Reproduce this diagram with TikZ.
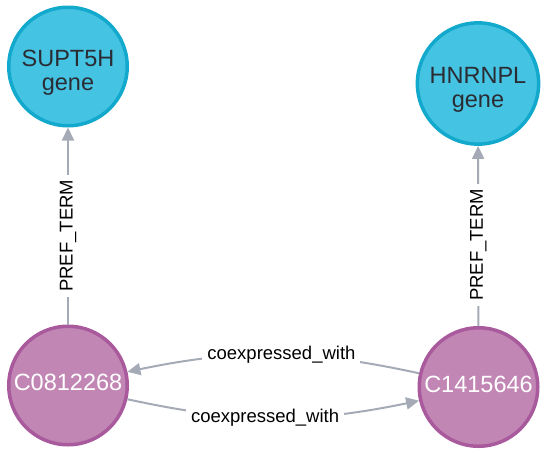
\documentclass[tikz,border=0pt]{standalone}
\usepackage{fontspec}
\setmainfont{Liberation Sans}
\usetikzlibrary{arrows.meta}
\definecolor{genefill}{HTML}{45C3E2}
\definecolor{geneline}{HTML}{12A9CD}
\definecolor{cfill}{HTML}{C286B5}
\definecolor{cline}{HTML}{A85A9C}
\definecolor{edgecol}{HTML}{A5ABB6}
\definecolor{txt}{HTML}{2A2C34}
\begin{document}
\begin{tikzpicture}[x=1pt, y=-1pt,
  gene/.style={circle, draw=geneline, fill=genefill, line width=3.5pt, minimum size=118.5pt, inner sep=0pt, align=center, text=txt, font=\fontsize{23.5}{24}\selectfont, text height=60.5pt, text depth=13pt},
  concept/.style={circle, draw=cline, fill=cfill, line width=3.5pt, minimum size=118.5pt, inner sep=0pt, text=white, font=\fontsize{23.5}{24}\selectfont, text height=16.5pt, text depth=6pt},
  rel/.style={draw=edgecol, line width=2pt, -{Triangle[length=13pt, width=12pt]}},
  rlabel/.style={fill=white, text=black, font=\fontsize{18.5}{20}\selectfont, inner sep=5pt}]
\useasboundingbox (0,0) rectangle (559,469);
\node[gene] (n0) at (68,66.5) {SUPT5H\\gene};
\node[gene] (n1) at (478,83.5) {HNRNPL\\gene};
\node[concept] (n2) at (68,385.5) {C0812268};
\node[concept] (n3) at (478.5,387) {C1415646};
\draw[rel](n2) -- node[rlabel, rotate=90, pos=0.45] {PREF\_TERM} (n0);
\draw[rel](n3) -- node[rlabel, rotate=90, pos=0.45] {PREF\_TERM} (n1);
\draw[rel](n3.167) to[bend right=12] node[rlabel, pos=0.47] {coexpressed\_with} (n2.13);
\draw[rel](n2.-13) to[bend right=12] node[rlabel, pos=0.47] {coexpressed\_with} (n3.193);
\end{tikzpicture}
\end{document}
